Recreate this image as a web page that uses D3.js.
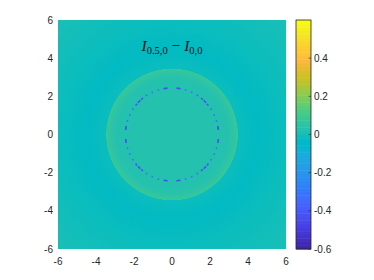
<!DOCTYPE html>
<html>
<head>
<meta charset="utf-8">
<script src="https://cdn.jsdelivr.net/npm/d3@7"></script>
<style>
	body { margin: 0; background: #fff; }
	svg text { font-family: "Liberation Sans", Arial, sans-serif; font-size: 10px; fill: #262626; }
</style>
</head>
<body>
<svg id="chart" width="374" height="280"></svg>
<script>
// axis ticks
var xTicks = [-6, -4, -2, 0, 2, 4, 6];
var yTicks = [-6, -4, -2, 0, 2, 4, 6];
var cbTicks = [-0.6, -0.4, -0.2, 0, 0.2, 0.4];

// radial profile of the difference field (radius, value)
var profileR   = [0, 2.4, 2.9, 3.2, 3.45, 3.47, 4.5, 6, 8.5];
var profileVal = [0.02, 0.02, 0.025, 0.05, 0.08, -0.005, -0.02, -0.005, 0];

// negative dashed ring at r = 2.45, one quadrant (deg from top, clockwise)
var ringR      = 2.45;
var ringAngles = [8, 17, 25, 33, 40, 45, 50, 57, 65, 73, 82];
var ringSpans  = [5, 2, 2, 2, 3, 4, 3, 2, 2, 2, 5];
var ringVals   = [-0.45, -0.3, -0.3, -0.35, -0.4, -0.45, -0.4, -0.35, -0.3, -0.3, -0.45];

// parula(64)
var parula = [
	[0.2422,0.1504,0.6603],[0.2504,0.1650,0.7076],[0.2578,0.1818,0.7511],[0.2647,0.1978,0.7952],
	[0.2706,0.2147,0.8364],[0.2751,0.2342,0.8710],[0.2783,0.2559,0.8991],[0.2803,0.2782,0.9221],
	[0.2813,0.3006,0.9414],[0.2810,0.3228,0.9579],[0.2795,0.3447,0.9717],[0.2760,0.3667,0.9829],
	[0.2699,0.3892,0.9906],[0.2602,0.4123,0.9952],[0.2440,0.4358,0.9988],[0.2206,0.4603,0.9973],
	[0.1963,0.4847,0.9892],[0.1834,0.5074,0.9798],[0.1786,0.5289,0.9682],[0.1764,0.5499,0.9520],
	[0.1687,0.5703,0.9359],[0.1540,0.5902,0.9218],[0.1460,0.6091,0.9079],[0.1380,0.6276,0.8973],
	[0.1248,0.6459,0.8883],[0.1113,0.6635,0.8763],[0.0952,0.6798,0.8598],[0.0689,0.6948,0.8394],
	[0.0297,0.7082,0.8163],[0.0036,0.7203,0.7917],[0.0067,0.7312,0.7660],[0.0433,0.7411,0.7394],
	[0.0964,0.7500,0.7120],[0.1408,0.7584,0.6842],[0.1717,0.7670,0.6554],[0.1938,0.7758,0.6251],
	[0.2161,0.7843,0.5923],[0.2470,0.7918,0.5567],[0.2906,0.7973,0.5188],[0.3406,0.8008,0.4789],
	[0.3909,0.8029,0.4354],[0.4456,0.8024,0.3909],[0.5044,0.7993,0.3480],[0.5616,0.7942,0.3045],
	[0.6174,0.7876,0.2612],[0.6720,0.7793,0.2227],[0.7242,0.7698,0.1910],[0.7738,0.7598,0.1646],
	[0.8203,0.7498,0.1535],[0.8634,0.7406,0.1596],[0.9035,0.7330,0.1774],[0.9393,0.7288,0.2100],
	[0.9728,0.7298,0.2394],[0.9956,0.7434,0.2371],[0.9970,0.7659,0.2199],[0.9952,0.7893,0.2028],
	[0.9892,0.8136,0.1885],[0.9786,0.8386,0.1766],[0.9676,0.8639,0.1643],[0.9610,0.8890,0.1537],
	[0.9597,0.9135,0.1423],[0.9628,0.9373,0.1265],[0.9691,0.9606,0.1064],[0.9769,0.9839,0.0805]
].map(function(c){ return d3.rgb(c[0]*255, c[1]*255, c[2]*255).formatHex(); });

var plot = { left: 58, right: 286, top: 20, bottom: 249 };
var cb   = { left: 296, right: 311 };

var svg = d3.select("#chart");

var x = d3.scaleLinear().domain([-6, 6]).range([plot.left, plot.right]);
var y = d3.scaleLinear().domain([-6, 6]).range([plot.bottom, plot.top]);
var color = d3.scaleQuantize().domain([-0.6, 0.6]).range(parula);
var pxPerUnit = x(1) - x(0);

// radial field as a gradient
var defs = svg.append("defs");
var grad = defs.append("radialGradient")
	.attr("id", "field")
	.attr("gradientUnits", "userSpaceOnUse")
	.attr("cx", x(0)).attr("cy", y(0))
	.attr("r", pxPerUnit * d3.max(profileR));
grad.selectAll("stop")
	.data(profileR)
	.enter().append("stop")
	.attr("offset", function(d){ return d / d3.max(profileR); })
	.attr("stop-color", function(d, i){ return color(profileVal[i]); });

defs.append("clipPath").attr("id", "plotClip")
	.append("rect")
	.attr("x", plot.left).attr("y", plot.top)
	.attr("width", plot.right - plot.left).attr("height", plot.bottom - plot.top);

var field = svg.append("g").attr("clip-path", "url(#plotClip)");
field.append("rect")
	.attr("x", plot.left).attr("y", plot.top)
	.attr("width", plot.right - plot.left).attr("height", plot.bottom - plot.top)
	.attr("fill", "url(#field)");

// dashed negative ring, mirrored into the four quadrants
var ring = [];
[0, 1, 2, 3].forEach(function(q){
	ringAngles.forEach(function(a, i){
		var ang = (q % 2 == 0) ? a + q * 90 : (q + 1) * 90 - a;
		ring.push({ angle: ang, span: ringSpans[i], value: ringVals[i] });
	});
});
var arc = d3.arc()
	.innerRadius(pxPerUnit * ringR - 0.8)
	.outerRadius(pxPerUnit * ringR + 0.8)
	.startAngle(function(d){ return (d.angle - d.span / 2) * Math.PI / 180; })
	.endAngle(function(d){ return (d.angle + d.span / 2) * Math.PI / 180; });
field.append("g")
	.attr("transform", "translate(" + x(0) + "," + y(0) + ")")
	.selectAll("path")
	.data(ring)
	.enter().append("path")
	.attr("d", arc)
	.attr("fill", function(d){ return color(d.value); });

// tick labels (axes layer sits under the image)
svg.append("g").selectAll("text")
	.data(xTicks)
	.enter().append("text")
	.attr("x", function(d){ return x(d); })
	.attr("y", plot.bottom + 16)
	.attr("text-anchor", "middle")
	.text(function(d){ return d; });

svg.append("g").selectAll("text")
	.data(yTicks)
	.enter().append("text")
	.attr("x", plot.left - 5)
	.attr("y", function(d){ return y(d) + 3.5; })
	.attr("text-anchor", "end")
	.text(function(d){ return d; });

// title
var title = svg.append("text")
	.attr("x", x(0))
	.attr("y", y(4.4))
	.attr("text-anchor", "middle")
	.style("font-family", "'Liberation Serif', 'DejaVu Serif', serif")
	.style("font-size", "15.5px")
	.style("fill", "#111");
title.append("tspan").style("font-style", "italic").text("I");
title.append("tspan").attr("dy", 3).style("font-size", "10.5px").text("0.5,0");
title.append("tspan").attr("dy", -3).text(" \u2212 ");
title.append("tspan").style("font-style", "italic").text("I");
title.append("tspan").attr("dy", 3).style("font-size", "10.5px").text("0,0");

// colorbar
var cy = d3.scaleLinear().domain([-0.6, 0.6]).range([plot.bottom, plot.top]);
var step = 1.2 / parula.length;
svg.append("g").selectAll("rect")
	.data(parula)
	.enter().append("rect")
	.attr("x", cb.left)
	.attr("width", cb.right - cb.left)
	.attr("y", function(d, i){ return cy(-0.6 + (i + 1) * step); })
	.attr("height", function(d, i){ return cy(-0.6 + i * step) - cy(-0.6 + (i + 1) * step) + 0.5; })
	.attr("fill", function(d){ return d; });
svg.append("rect")
	.attr("x", cb.left).attr("y", plot.top)
	.attr("width", cb.right - cb.left).attr("height", plot.bottom - plot.top)
	.attr("fill", "none")
	.attr("stroke", "#262626")
	.attr("stroke-width", 0.8);

var cbAxis = svg.append("g");
cbAxis.selectAll("line")
	.data(cbTicks)
	.enter().append("line")
	.attr("x1", cb.right - 2.5).attr("x2", cb.right)
	.attr("y1", function(d){ return cy(d); })
	.attr("y2", function(d){ return cy(d); })
	.attr("stroke", "#262626")
	.attr("stroke-width", 0.6);
cbAxis.selectAll("text")
	.data(cbTicks)
	.enter().append("text")
	.attr("x", cb.right + 3)
	.attr("y", function(d){ return cy(d) + 3.5; })
	.text(function(d){ return d == 0 ? "0" : d3.format(".1f")(d).replace("\u2212", "-"); });
</script>
</body>
</html>
